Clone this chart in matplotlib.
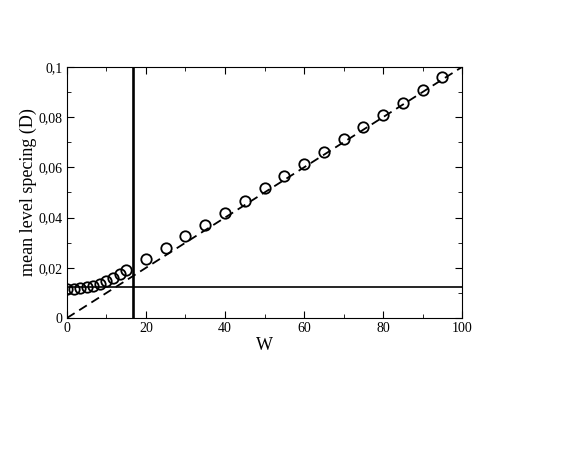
import matplotlib
matplotlib.use("Agg")
import matplotlib.pyplot as plt
from matplotlib.ticker import MultipleLocator, FuncFormatter

plt.rcParams['font.family'] = ['Liberation Serif', 'DejaVu Serif']

# data
w = [0, 1.67, 3.33, 5, 6.67, 8.33, 10, 11.67, 13.33, 15,
     20, 25, 30, 35, 40, 45, 50, 55, 60, 65, 70, 75, 80, 85, 90, 95]
d = [0.0115, 0.0116, 0.0119, 0.0123, 0.0129, 0.0137, 0.0147, 0.0159, 0.0174, 0.0191,
     0.0235, 0.0280, 0.0325, 0.0372, 0.0420, 0.0467, 0.0517, 0.0565, 0.0615, 0.0663,
     0.0713, 0.0762, 0.0810, 0.0858, 0.0910, 0.0962]
line_w = [0, 100]
line_d = [0, 0.1]
w_c = 16.6
d_c = 0.0122

fig = plt.figure(figsize=(5.81, 4.49), dpi=100)
ax = fig.add_axes([0.1153, 0.2918, 0.6799, 0.559])

ax.plot(line_w, line_d, 'k--', lw=1.3, dashes=(5, 3))
ax.axvline(w_c, color='k', lw=1.9)
ax.axhline(d_c, color='k', lw=1.2)
ax.plot(w, d, 'o', mfc='none', mec='k', ms=7.5, mew=1.3)

ax.set_xlim(0, 100)
ax.set_ylim(0, 0.1)
ax.xaxis.set_major_locator(MultipleLocator(20))
ax.xaxis.set_minor_locator(MultipleLocator(10))
ax.yaxis.set_major_locator(MultipleLocator(0.02))
ax.yaxis.set_minor_locator(MultipleLocator(0.01))

def comma(v, pos):
    s = ('%.2f' % v).rstrip('0').rstrip('.')
    return s.replace('.', ',')

ax.yaxis.set_major_formatter(FuncFormatter(comma))
ax.tick_params(which='both', direction='in', top=True, right=True, labelsize=10, pad=3)
ax.tick_params(which='major', length=5)
ax.tick_params(which='minor', length=3)

ax.set_xlabel('W', fontsize=13, labelpad=1)
ax.set_ylabel('mean level specing (D)', fontsize=13, labelpad=1)

fig.savefig('out.png', dpi=100)
